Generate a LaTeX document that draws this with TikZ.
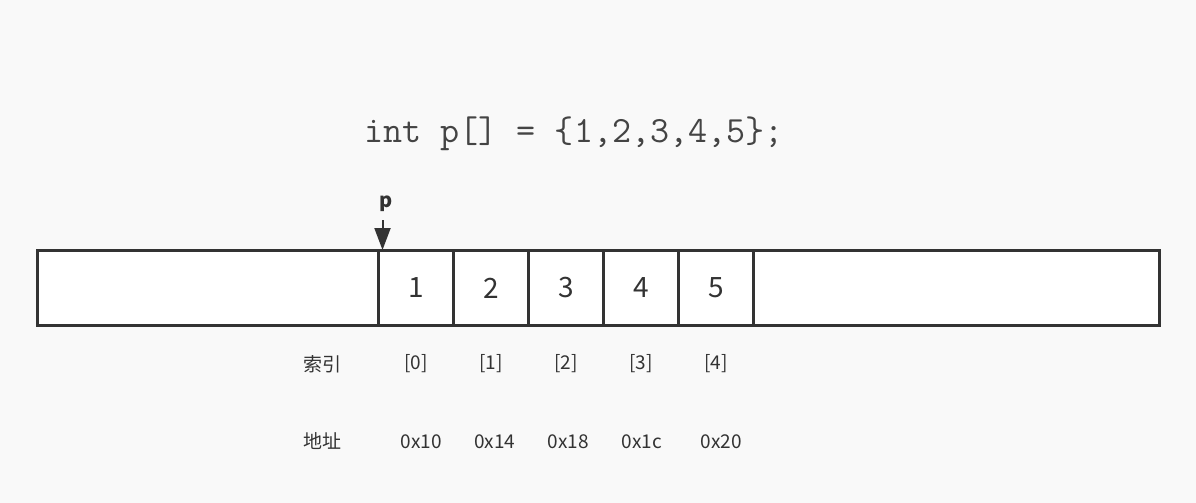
\documentclass[tikz,border=0pt]{standalone}
\usepackage{fontspec}
\setmainfont{Noto Sans CJK SC}
\usetikzlibrary{arrows.meta, positioning}
\definecolor{linegray}{HTML}{333333}
\definecolor{codegray}{HTML}{444444}
\definecolor{bggray}{HTML}{F9F9F9}

\begin{document}
\begin{tikzpicture}[x=1pt, y=-1pt,
  cell/.style={draw=linegray, line width=3pt, fill=white, minimum width=75pt,
    minimum height=75pt, inner sep=0pt, text=linegray,
    font=\fontsize{28}{28}\selectfont},
  tag/.style={text=linegray, inner sep=0pt, font=\fontsize{19}{19}\selectfont}]
% Background
\fill[bggray] (0,0) rectangle (1196,503);

% Declaration
\node[anchor=base, text=codegray, font=\ttfamily\fontsize{37}{37}\selectfont] (decl) at (574,142) {int p[] = \{1,2,3,4,5\};};

% Memory strip
\draw[linegray, line width=3pt, fill=white] (37.5,250.5) rectangle (1159.5,325.5);

% Array cells and index labels
\foreach \v [count=\i from 0] in {1,...,5} {
  \node[cell] (c\i) at ({416+75*\i},288) {\raisebox{-3pt}{\v}};
  \node[tag] (idx\i) at ({416+75*\i},364) {[\i]};
}
\node[tag] (idxname) at (322,364) {索引};

% Addresses
\node[tag] (addrname) at (322,441) {地址};
\foreach \a/\x [count=\i from 0] in {0x10/421.5, 0x14/494.7, 0x18/568, 0x1c/642, 0x20/721.5}
  \node[tag] (addr\i) at (\x,442) {\a};

% Pointer p
\node[text=linegray, inner sep=0pt, font=\bfseries\fontsize{20}{20}\selectfont] (plabel) at (386,204) {p};
\coordinate (ptail) at (382.5,220);
\coordinate (ptip) at (382.5,250);
\draw[linegray, line width=2pt, -{Triangle[length=22pt, width=16pt]}] (ptail) -- (ptip);
\end{tikzpicture}
\end{document}
